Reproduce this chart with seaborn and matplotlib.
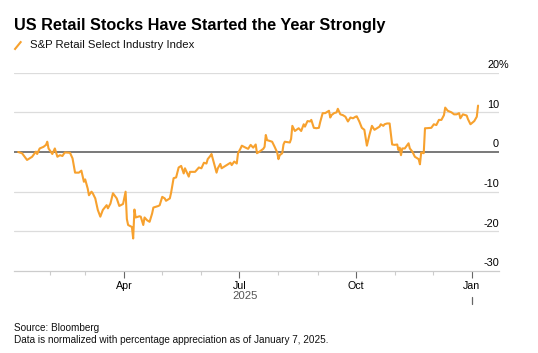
import pandas as pd
import seaborn as sns
import matplotlib.pyplot as plt
import matplotlib.dates as mdates
from matplotlib.lines import Line2D

# S&P Retail Select Industry Index, % change since Jan 7 2025
dates = [
    "2025-01-07", "2025-01-10", "2025-01-14", "2025-01-18", "2025-01-21", "2025-01-22",
    "2025-01-24", "2025-01-27", "2025-01-29", "2025-01-30", "2025-01-31", "2025-02-03",
    "2025-02-05", "2025-02-07", "2025-02-09", "2025-02-11", "2025-02-12", "2025-02-13",
    "2025-02-17", "2025-02-19", "2025-02-21", "2025-02-24", "2025-02-26", "2025-02-28",
    "2025-03-01", "2025-03-03", "2025-03-04", "2025-03-06", "2025-03-07", "2025-03-09",
    "2025-03-11", "2025-03-13", "2025-03-15", "2025-03-18", "2025-03-19", "2025-03-21",
    "2025-03-23", "2025-03-26", "2025-03-28", "2025-03-31", "2025-04-02", "2025-04-03",
    "2025-04-04", "2025-04-07", "2025-04-08", "2025-04-09", "2025-04-10", "2025-04-13",
    "2025-04-14", "2025-04-16", "2025-04-17", "2025-04-19", "2025-04-21", "2025-04-23",
    "2025-04-24", "2025-04-28", "2025-04-29", "2025-05-01", "2025-05-03", "2025-05-04",
    "2025-05-07", "2025-05-08", "2025-05-10", "2025-05-12", "2025-05-14", "2025-05-15",
    "2025-05-16", "2025-05-18", "2025-05-19", "2025-05-22", "2025-05-23", "2025-05-27",
    "2025-05-30", "2025-06-01", "2025-06-03", "2025-06-05", "2025-06-06", "2025-06-08",
    "2025-06-09", "2025-06-11", "2025-06-13", "2025-06-14", "2025-06-16", "2025-06-17",
    "2025-06-20", "2025-06-24", "2025-06-25", "2025-06-27", "2025-06-29", "2025-06-30",
    "2025-07-02", "2025-07-03", "2025-07-06", "2025-07-08", "2025-07-10", "2025-07-12",
    "2025-07-14", "2025-07-15", "2025-07-17", "2025-07-20", "2025-07-21", "2025-07-22",
    "2025-07-23", "2025-07-25", "2025-07-27", "2025-07-29", "2025-07-31", "2025-08-01",
    "2025-08-02", "2025-08-04", "2025-08-05", "2025-08-06", "2025-08-10", "2025-08-11",
    "2025-08-12", "2025-08-14", "2025-08-17", "2025-08-19", "2025-08-21", "2025-08-22",
    "2025-08-24", "2025-08-26", "2025-08-27", "2025-08-29", "2025-08-31", "2025-09-02",
    "2025-09-03", "2025-09-05", "2025-09-07", "2025-09-09", "2025-09-10", "2025-09-11",
    "2025-09-12", "2025-09-14", "2025-09-16", "2025-09-17", "2025-09-19", "2025-09-21",
    "2025-09-23", "2025-09-25", "2025-09-27", "2025-09-29", "2025-10-01", "2025-10-02",
    "2025-10-04", "2025-10-06", "2025-10-08", "2025-10-10", "2025-10-12", "2025-10-14",
    "2025-10-16", "2025-10-18", "2025-10-20", "2025-10-21", "2025-10-23", "2025-10-24",
    "2025-10-26", "2025-10-28", "2025-10-30", "2025-11-01", "2025-11-03", "2025-11-04",
    "2025-11-05", "2025-11-06", "2025-11-07", "2025-11-09", "2025-11-12", "2025-11-13",
    "2025-11-15", "2025-11-17", "2025-11-20", "2025-11-21", "2025-11-22", "2025-11-24",
    "2025-11-25", "2025-11-26", "2025-11-30", "2025-12-02", "2025-12-04", "2025-12-06",
    "2025-12-08", "2025-12-10", "2025-12-11", "2025-12-13", "2025-12-16", "2025-12-18",
    "2025-12-20", "2025-12-22", "2025-12-23", "2025-12-25", "2025-12-28", "2025-12-29",
    "2025-12-31", "2026-01-03", "2026-01-05", "2026-01-06",
]
values = [
    0.0, -0.3, -2.0, -1.2, 0.1, -0.5,
    0.9, 1.3, 1.8, 2.6, 0.9, -0.5,
    0.9, -1.2, -0.8, -1.0, -0.5, -0.1,
    -0.2, -1.6, -5.2, -5.2, -4.7, -7.5,
    -6.9, -9.2, -10.9, -10.0, -10.4, -11.7,
    -14.6, -16.3, -14.6, -13.4, -14.2, -13.0,
    -10.4, -11.7, -13.6, -13.1, -10.0, -16.9,
    -18.4, -18.9, -21.8, -14.5, -16.5, -16.2,
    -16.3, -18.4, -16.5, -17.2, -17.6, -15.5,
    -14.0, -13.6, -13.4, -11.3, -11.7, -12.3,
    -11.7, -10.3, -6.6, -6.4, -3.9, -3.7,
    -3.5, -5.4, -4.1, -6.2, -5.0, -5.0,
    -3.9, -4.1, -2.7, -2.9, -1.8, -1.0,
    -0.5, -2.9, -5.2, -4.1, -3.0, -4.1,
    -3.5, -2.7, -3.3, -2.4, -2.9, -0.3,
    0.9, 1.6, 1.1, 0.8, 1.8, 1.1,
    1.9, -0.3, 0.1, 0.8, 1.3, 4.3,
    3.0, 2.8, 2.6, 1.3, -0.1, -1.8,
    -0.8, -0.3, 1.9, 2.6, 2.4, 3.3,
    6.6, 5.3, 6.0, 5.3, 7.0, 6.4,
    7.8, 7.7, 8.1, 6.1, 6.0, 6.1,
    7.5, 9.8, 9.8, 10.2, 10.4, 8.7,
    9.3, 9.8, 10.0, 10.9, 9.5, 9.3,
    8.9, 7.7, 8.7, 8.5, 8.9, 9.0,
    7.7, 6.1, 5.6, 1.6, 4.3, 6.6,
    5.6, 6.0, 6.4, 7.0, 6.6, 7.0,
    7.2, 7.2, 1.9, 1.8, 1.9, 0.5,
    1.1, -0.8, 0.9, 0.9, 2.2, 0.9,
    0.1, -1.2, -1.8, -3.1, -0.1, -0.3,
    6.0, 6.0, 6.1, 7.0, 6.8, 8.1,
    8.1, 9.3, 11.2, 10.4, 10.0, 9.5,
    9.5, 9.8, 8.5, 9.5, 9.2, 8.3,
    7.0, 7.8, 8.9, 11.7,
]
y_ticks = [20, 10, 0, -10, -20, -30]

df = pd.DataFrame({"date": pd.to_datetime(dates), "pct": values})

sns.set_theme(style="white")
plt.rcParams["font.family"] = ["Liberation Sans", "DejaVu Sans"]

fig = plt.figure(figsize=(5.38, 3.53), dpi=100)
ax = fig.add_axes([0.02602, 0.23229, 0.90149, 0.56176])

# grid lines first, zero line darker
for v in y_ticks:
    if v == 0:
        ax.axhline(v, color="#6e6e6e", lw=1.3, zorder=1)
    elif v != -30:
        ax.axhline(v, color="#dcdcdc", lw=0.9, zorder=0)

sns.lineplot(data=df, x="date", y="pct", ax=ax, color="#f7a12e", lw=1.5, zorder=3)

ax.set_xlim(pd.Timestamp("2025-01-03 16:00"), pd.Timestamp("2026-01-22 14:00"))
ax.set_ylim(-30, 20)
ax.set_xlabel("")
ax.set_ylabel("")
ax.set_yticks([])

for s in ["top", "left", "right"]:
    ax.spines[s].set_visible(False)
ax.spines["bottom"].set_color("#cccccc")
ax.spines["bottom"].set_linewidth(0.9)

ax.xaxis.set_major_locator(mdates.MonthLocator(bymonth=[1, 4, 7, 10]))
ax.xaxis.set_major_formatter(mdates.DateFormatter("%b"))
ax.xaxis.set_minor_locator(mdates.MonthLocator())
ax.tick_params(axis="x", which="major", bottom=True, length=5, width=0.8,
               color="#666666", pad=2.5, labelsize=7.7, labelcolor="#000000")
ax.tick_params(axis="x", which="minor", bottom=True, length=3, width=0.8, color="#cccccc")

# y labels on the right, sitting above the grid lines
for v in y_ticks:
    ax.annotate(str(v), xy=(1.0, v), xycoords=("axes fraction", "data"),
                xytext=(0, 3.3), textcoords="offset points",
                ha="right", va="baseline", fontsize=7.8, color="#000000")
ax.annotate("%", xy=(1.0, 20), xycoords=("axes fraction", "data"),
            xytext=(0, 3.3), textcoords="offset points",
            ha="left", va="baseline", fontsize=7.8, color="#000000")

# year label and year divider
ax.annotate("2025", xy=(pd.Timestamp("2025-07-01"), 0), xycoords=("data", "axes fraction"),
            xytext=(4.3, -18), textcoords="offset points", ha="center", va="center",
            fontsize=8.2, color="#555555")
jan = pd.Timestamp("2026-01-01")
ax.plot([jan, jan], [-0.13, -0.165], transform=ax.get_xaxis_transform(),
        color="#666666", lw=0.9, clip_on=False)

# title, legend, footer
fig.text(0.0268, 0.9144, "US Retail Stocks Have Started the Year Strongly",
         fontsize=11.7, fontweight="bold", color="#000000", va="baseline")
fig.add_artist(Line2D([0.0268, 0.0396], [0.859, 0.883], color="#f7a12e", lw=1.5,
                      transform=fig.transFigure, solid_capstyle="butt"))
fig.text(0.0558, 0.8737, "S&P Retail Select Industry Index", fontsize=8.2,
         color="#111111", va="center")
fig.text(0.0268, 0.072, "Source: Bloomberg", fontsize=7.2, color="#111111", va="center")
fig.text(0.0268, 0.0377, "Data is normalized with percentage appreciation as of January 7, 2025.",
         fontsize=7.2, color="#111111", va="center")

fig.savefig("out.png", dpi=100)
